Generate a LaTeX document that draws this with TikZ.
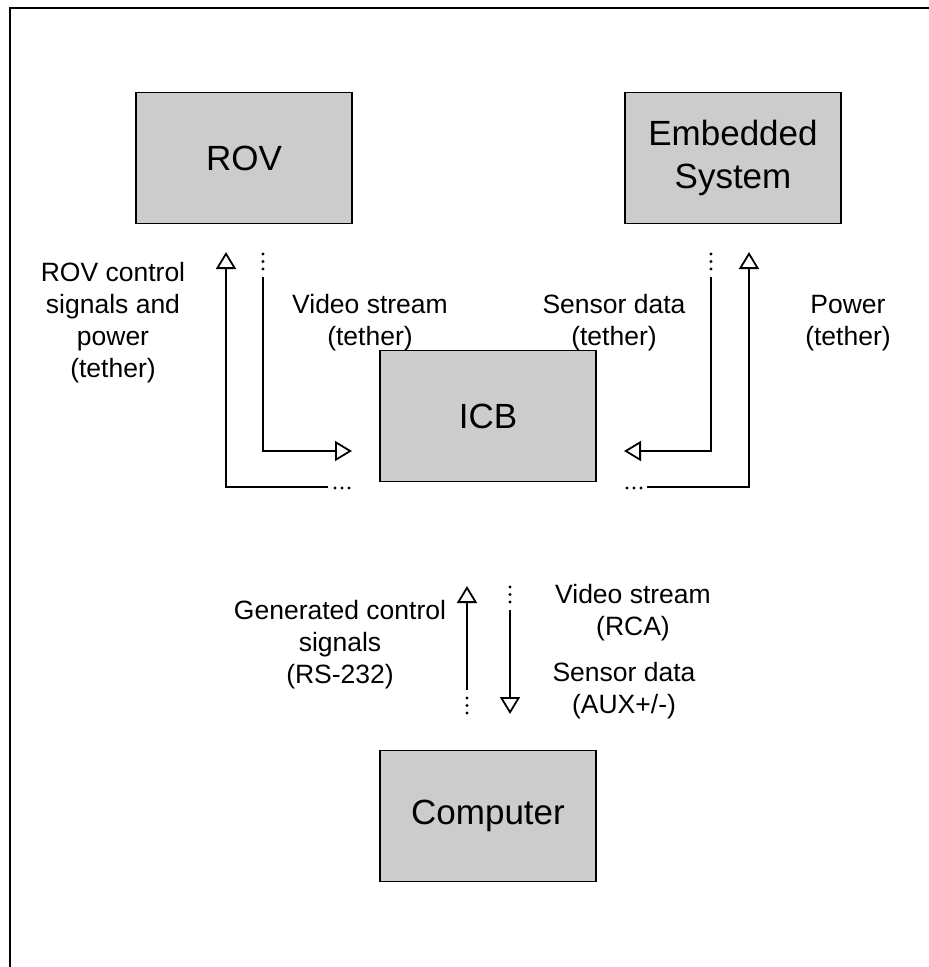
\documentclass[tikz,border=0pt]{standalone}
\usepackage{fontspec}
\setmainfont{Liberation Sans}
\usetikzlibrary{arrows.meta}
\definecolor{boxgray}{RGB}{204,204,204}
\begin{document}
\begin{tikzpicture}[x=1pt,y=-1pt,
 box/.style={draw=black, line width=1.6pt, fill=boxgray, minimum width=216pt, minimum height=131pt, inner sep=0pt, align=center, font=\fontsize{35}{43}\selectfont},
 lbl/.style={align=center, font=\fontsize{26.5}{32}\selectfont, inner sep=0pt},
 conn/.style={line width=2pt, -{Triangle[open, length=17pt, width=20pt, line width=1.8pt]}},
 dotmark/.style={circle, fill=black, inner sep=0pt, minimum size=3.4pt}
]
\useasboundingbox (0,0) rectangle (929,967);
% frame
\coordinate (fbl) at (10,975);
\coordinate (ftl) at (10,8);
\coordinate (ftr) at (940,8);
\draw[line width=2pt] (fbl) -- (ftl) -- (ftr);

% boxes
\node[box] (rov) at (244,158) {ROV};
\node[box] (emb) at (733,158) {Embedded\\System};
\node[box] (icb) at (488,416) {ICB};
\node[box] (comp) at (488,816) {Computer};

% labels
\node[lbl] (l1) at (113,323) {ROV control\\signals and\\power\\(tether)};
\node[lbl] (l2) at (370,323) {Video stream\\(tether)};
\node[lbl] (l3) at (614,323) {Sensor data\\(tether)};
\node[lbl] (l4) at (848,323) {Power\\(tether)};
\node[lbl] (l5) at (340,645) {Generated control\\signals\\(RS-232)};
\node[lbl] (l6) at (633,613) {Video stream\\(RCA)};
\node[lbl] (l7) at (624,691) {Sensor data\\(AUX+/-)};

% connector endpoints
\coordinate (a1s) at (328,487);
\coordinate (a1e) at (226,252);
\coordinate (a2s) at (263,277);
\coordinate (a2e) at (352,451);
\coordinate (a3s) at (711,277);
\coordinate (a3e) at (624,451);
\coordinate (a4s) at (647,487);
\coordinate (a4e) at (749,252);
\coordinate (a5s) at (467,690);
\coordinate (a5e) at (467,586);
\coordinate (a6s) at (510,610);
\coordinate (a6e) at (510,714);

\draw[conn] (a1s) -| (a1e);
\draw[conn] (a2s) |- (a2e);
\draw[conn] (a3s) |- (a3e);
\draw[conn] (a4s) -| (a4e);
\draw[conn] (a5s) -- (a5e);
\draw[conn] (a6s) -- (a6e);

% dots
\foreach \y [count=\i] in {254,261.5,269}{
  \node[dotmark] (dv\i) at (263,\y) {};
  \node[dotmark] (ds\i) at (711,\y) {};
}
\foreach \x [count=\i] in {335,342,349}{
  \node[dotmark] (dl\i) at (\x,488) {};
}
\foreach \x [count=\i] in {627,634,641}{
  \node[dotmark] (dr\i) at (\x,488) {};
}
\foreach \y [count=\i] in {698,705.5,713}{
  \node[dotmark] (du\i) at (467,\y) {};
}
\foreach \y [count=\i] in {587,594.5,602}{
  \node[dotmark] (dd\i) at (510,\y) {};
}
\end{tikzpicture}
\end{document}
